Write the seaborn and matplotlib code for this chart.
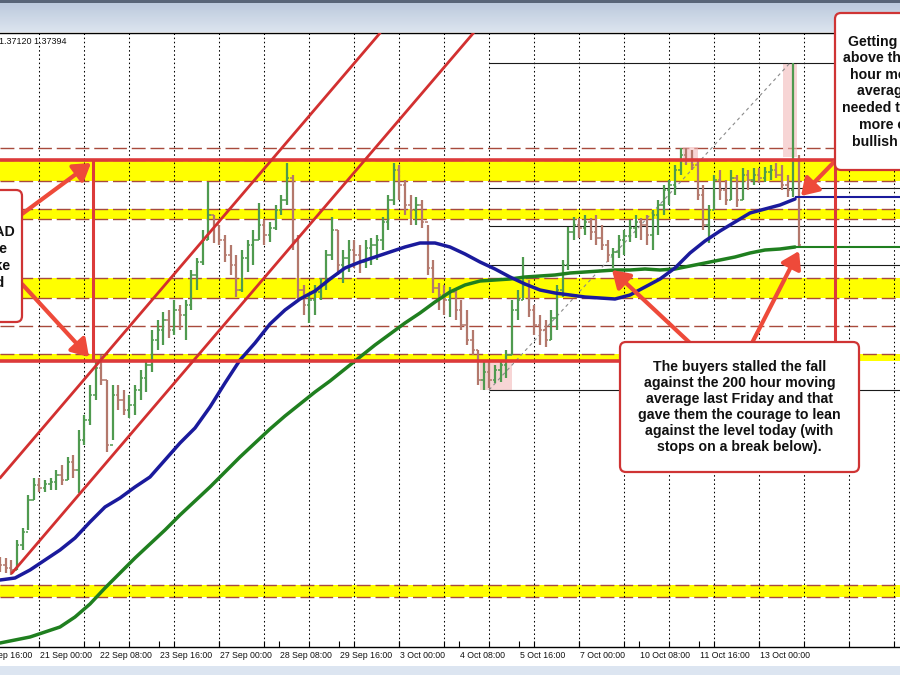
import numpy as np
import pandas as pd
import matplotlib
matplotlib.use("Agg")
import matplotlib.pyplot as plt
import matplotlib.transforms as mtransforms
from matplotlib.patches import FancyBboxPatch, Rectangle, FancyArrowPatch
from matplotlib.colors import LinearSegmentedColormap
import seaborn as sns

sns.set_theme(style="white")
plt.rcParams['font.family'] = ['Liberation Sans', 'DejaVu Sans']

# ---------------- data (USDCAD, 3-hour bars) ----------------
bar_high = [
    1.32365, 1.32350, 1.32320, 1.32620, 1.32800, 1.33295, 1.33550, 1.33550, 1.33520, 1.33550,
    1.33670, 1.33745, 1.33865, 1.33895, 1.34270, 1.34495, 1.34945, 1.35320, 1.35395, 1.35020,
    1.34945, 1.34945, 1.34870, 1.34795, 1.34945, 1.35170, 1.35320, 1.35770, 1.35920, 1.36040,
    1.36070, 1.36220, 1.36145, 1.36220, 1.36670, 1.36850, 1.37270, 1.37990, 1.37495, 1.37345,
    1.37195, 1.37045, 1.36895, 1.36970, 1.37120, 1.37270, 1.37675, 1.37420, 1.37390, 1.37645,
    1.37795, 1.38275, 1.38095, 1.37195, 1.36445, 1.36295, 1.36445, 1.36550, 1.36970, 1.37465,
    1.37270, 1.36970, 1.37120, 1.37120, 1.37045, 1.37120, 1.37150, 1.37195, 1.37465, 1.37795,
    1.38275, 1.38245, 1.38020, 1.37795, 1.37765, 1.37720, 1.37345, 1.36820, 1.36475, 1.36445,
    1.36415, 1.36370, 1.36220, 1.36070, 1.35770, 1.35470, 1.35320, 1.35290, 1.35245, 1.35320,
    1.35470, 1.36220, 1.36370, 1.36865, 1.36520, 1.36145, 1.35995, 1.35920, 1.36070, 1.36445,
    1.36820, 1.37315, 1.37465, 1.37450, 1.37495, 1.37450, 1.37495, 1.37345, 1.37120, 1.37000,
    1.37195, 1.37270, 1.37420, 1.37495, 1.37450, 1.37495, 1.37570, 1.37720, 1.37945, 1.38020,
    1.38245, 1.38500, 1.38500, 1.38470, 1.38320, 1.37945, 1.37645, 1.38095, 1.38170, 1.38020,
    1.38170, 1.38095, 1.38200, 1.38170, 1.38200, 1.38200, 1.38215, 1.38245, 1.38275, 1.38245,
    1.38095, 1.39775, 1.38395,
]
bar_low = [
    1.32140, 1.32125, 1.32095, 1.32170, 1.32470, 1.32770, 1.33220, 1.33340, 1.33340, 1.33370,
    1.33370, 1.33445, 1.33520, 1.33550, 1.33325, 1.34045, 1.34345, 1.34720, 1.34945, 1.33940,
    1.34120, 1.34570, 1.34495, 1.34450, 1.34495, 1.34720, 1.34840, 1.35140, 1.35470, 1.35545,
    1.35650, 1.35695, 1.35770, 1.35620, 1.36070, 1.36370, 1.36745, 1.37120, 1.37075, 1.37045,
    1.36790, 1.36595, 1.36265, 1.36340, 1.36640, 1.36745, 1.37120, 1.37045, 1.37090, 1.37270,
    1.37495, 1.37645, 1.36970, 1.36220, 1.35995, 1.35875, 1.35995, 1.36220, 1.36370, 1.36820,
    1.36595, 1.36475, 1.36640, 1.36700, 1.36625, 1.36700, 1.36745, 1.36820, 1.36970, 1.37270,
    1.37645, 1.37720, 1.37495, 1.37345, 1.37345, 1.37300, 1.36595, 1.36325, 1.36070, 1.35995,
    1.35965, 1.35920, 1.35770, 1.35545, 1.35395, 1.34945, 1.34870, 1.34900, 1.34975, 1.34990,
    1.35050, 1.35395, 1.35920, 1.36220, 1.35965, 1.35695, 1.35545, 1.35515, 1.35620, 1.35770,
    1.36265, 1.36670, 1.37120, 1.37150, 1.37195, 1.37120, 1.37045, 1.36970, 1.36790, 1.36700,
    1.36850, 1.36895, 1.37090, 1.37150, 1.37120, 1.37045, 1.36970, 1.37195, 1.37495, 1.37645,
    1.37795, 1.38095, 1.38245, 1.38170, 1.37720, 1.37270, 1.37075, 1.37570, 1.37720, 1.37645,
    1.37720, 1.37615, 1.37720, 1.37870, 1.37945, 1.37975, 1.37990, 1.38020, 1.38050, 1.37870,
    1.37765, 1.37765, 1.37015,
]
bar_close = [
    1.32245, 1.32200, 1.32170, 1.32545, 1.32740, 1.33220, 1.33445, 1.33400, 1.33460, 1.33490,
    1.33595, 1.33520, 1.33790, 1.33670, 1.34120, 1.34420, 1.34795, 1.35200, 1.35020, 1.34045,
    1.34795, 1.34720, 1.34570, 1.34645, 1.34870, 1.35050, 1.35245, 1.35620, 1.35770, 1.35920,
    1.35770, 1.36070, 1.35995, 1.36145, 1.36595, 1.36790, 1.37120, 1.37495, 1.37345, 1.37120,
    1.36895, 1.36745, 1.36370, 1.36850, 1.37045, 1.37120, 1.37345, 1.37195, 1.37300, 1.37570,
    1.37720, 1.38050, 1.37120, 1.36370, 1.36145, 1.36220, 1.36340, 1.36445, 1.36895, 1.37270,
    1.36745, 1.36850, 1.36970, 1.36895, 1.36790, 1.37000, 1.37045, 1.37120, 1.37390, 1.37720,
    1.38170, 1.37945, 1.37645, 1.37570, 1.37645, 1.37390, 1.36700, 1.36400, 1.36295, 1.36220,
    1.36340, 1.36070, 1.35845, 1.35620, 1.35470, 1.35020, 1.35140, 1.35020, 1.35170, 1.35245,
    1.35395, 1.36070, 1.36220, 1.36445, 1.36070, 1.35845, 1.35770, 1.35620, 1.35950, 1.36370,
    1.36745, 1.37240, 1.37345, 1.37300, 1.37390, 1.37240, 1.37150, 1.37045, 1.36895, 1.36940,
    1.37120, 1.37180, 1.37300, 1.37390, 1.37345, 1.37195, 1.37495, 1.37645, 1.37870, 1.37945,
    1.38170, 1.38395, 1.38320, 1.38245, 1.37795, 1.37345, 1.37570, 1.38020, 1.37870, 1.37720,
    1.38050, 1.37720, 1.38095, 1.38020, 1.38095, 1.38050, 1.38140, 1.38170, 1.38095, 1.37945,
    1.37870, 1.38320, 1.37045,
]
first_open = 1.32300
bar_hours = 3  # each bar covers 3 hourly slots

# 100-hour (blue) and 200-hour (green) moving averages, sampled every 8 hours
ma_step = 8
ma100 = [
    1.3202, 1.3205, 1.3217, 1.3232, 1.3247, 1.3265, 1.3289, 1.33115, 1.3325, 1.33415,
    1.33565, 1.3382, 1.34075, 1.3430, 1.34615, 1.34975, 1.3532, 1.35575, 1.3586, 1.3607,
    1.36235, 1.36355, 1.36535, 1.3670, 1.3679, 1.36865, 1.3694, 1.37015, 1.37075, 1.37075,
    1.37015, 1.3691, 1.3679, 1.36685, 1.36565, 1.3646, 1.3637, 1.36325, 1.36295, 1.36265,
    1.3625, 1.36235, 1.36295, 1.36415, 1.36535, 1.3670, 1.36925, 1.37105, 1.37255, 1.3739,
    1.37525, 1.37585, 1.37645, 1.37735,
]
ma200 = [
    1.31075, 1.3112, 1.31165, 1.3124, 1.31315, 1.31465, 1.3166, 1.3190, 1.32125, 1.3235,
    1.3256, 1.3277, 1.32995, 1.33205, 1.33415, 1.3364, 1.33865, 1.34075, 1.34285, 1.3448,
    1.3466, 1.3484, 1.35005, 1.35185, 1.35365, 1.35545, 1.3571, 1.35875, 1.36025, 1.3619,
    1.3634, 1.36445, 1.36505, 1.3652, 1.36535, 1.36565, 1.3658, 1.36595, 1.36625, 1.3664,
    1.36655, 1.3667, 1.3667, 1.36685, 1.3667, 1.36685, 1.3673, 1.36775, 1.3682, 1.36865,
    1.36925, 1.3697, 1.36985, 1.37015,
]
ma100_level = 1.37765
ma200_level = 1.37015

# key levels
yellow_zones = [(1.38005, 1.38320), (1.37435, 1.37585), (1.36250, 1.36550),
                (1.35305, 1.35410), (1.31765, 1.31945)]
dashed_levels = [1.38500, 1.38320, 1.38005, 1.37585, 1.37435, 1.36550, 1.36250,
                 1.35830, 1.35410, 1.31945, 1.31765]
range_top = 1.38320
range_bottom = 1.35305
range_hours = (49.6, 445.3)

fib_levels = [1.39775, 1.37901, 1.37323, 1.36744, 1.34870]
fib_hours = (260.8, 421.3)

channel_upper = ([0.0, 202.7], [1.33550, 1.40225])
channel_lower = ([6.4, 252.5], [1.32125, 1.40225])

highlight_boxes = [(256.0, 273.0, 1.34870, 1.35320),
                   (364.0, 372.0, 1.38275, 1.38515),
                   (417.6, 425.0, 1.38365, 1.39775)]

tick_labels = ["19 Sep 16:00", "21 Sep 00:00", "22 Sep 08:00", "23 Sep 16:00",
               "27 Sep 00:00", "28 Sep 08:00", "29 Sep 16:00", "3 Oct 00:00",
               "4 Oct 08:00", "5 Oct 16:00", "7 Oct 00:00", "10 Oct 08:00",
               "11 Oct 16:00", "13 Oct 00:00"]
label_first_hour, label_step = -11, 32
grid_first_hour, grid_step = 21, 24

header_text = "1.37120 1.37394"

# ---------------- figure ----------------
W, H = 900, 675
fig = plt.figure(figsize=(9, 6.75), dpi=100)
fig.patch.set_facecolor("white")
PX = mtransforms.Affine2D().scale(1 / W, -1 / H).translate(0, 1) + fig.transFigure

ax = fig.add_axes([0, 28 / H, 1, 614 / H])
ax.set_facecolor("white")
ax.set_xlim(0, 480)
ax.set_ylim(1.31015, 1.40225)

# yellow zones and dashed levels
for lo, hi in yellow_zones:
    ax.axhspan(lo, hi, color="#ffff00", lw=0, zorder=1)
for lv in dashed_levels:
    ax.axhline(lv, color="#a84a3c", lw=1.0, dashes=(10, 3.5), zorder=2)

# vertical dotted grid
for h in range(grid_first_hour, 481, grid_step):
    ax.axvline(h, color="black", lw=0.75, dashes=(1.5, 2.5), zorder=2)

# highlight rectangles
for x0, x1, y0, y1 in highlight_boxes:
    ax.add_patch(Rectangle((x0, y0), x1 - x0, y1 - y0, facecolor="#f3b9b9",
                           edgecolor="none", alpha=0.6, zorder=2.5))

# fib retracement
ax.hlines(fib_levels, fib_hours[0], 480, color="#1a1a1a", lw=0.8, zorder=3)
ax.plot(fib_hours, [fib_levels[-1], fib_levels[0]], color="#8a8a8a", lw=0.8,
        dashes=(3, 3), zorder=3)

# OHLC bars
n = len(bar_close)
x = np.arange(n) * bar_hours
opens = [first_open] + bar_close[:-1]
up = np.array(bar_close) >= np.array(opens)
cols = np.where(up, "#4f9a4f", "#b3786c")
ax.vlines(x, bar_low, bar_high, colors=cols, lw=1.6, zorder=3.5)
ax.hlines(opens, x - 1.3, x, colors=cols, lw=1.1, zorder=3.5)
ax.hlines(bar_close, x, x + 1.3, colors=cols, lw=1.1, zorder=3.5)

# moving averages
ma_x = np.arange(len(ma100)) * ma_step
df_ma = pd.DataFrame({"hour": ma_x, "ma100": ma100, "ma200": ma200})
sns.lineplot(data=df_ma, x="hour", y="ma200", color="#1f7f1f", lw=2.5, ax=ax, zorder=4)
sns.lineplot(data=df_ma, x="hour", y="ma100", color="#1a1a9c", lw=2.5, ax=ax, zorder=4)
ax.hlines(ma100_level, ma_x[-1], 480, color="#1a1a9c", lw=1.5, zorder=4)
ax.hlines(ma200_level, ma_x[-1], 480, color="#1f7f1f", lw=1.5, zorder=4)

# red range box and channel
RED = "#dc3a3a"
ax.hlines([range_top, range_bottom], 0, range_hours[1], color=RED, lw=2.6, zorder=5)
ax.vlines(list(range_hours), range_bottom, range_top, color=RED, lw=2.2, zorder=5)
ax.plot(*channel_upper, color="#d23030", lw=2.0, zorder=5)
ax.plot(*channel_lower, color="#d23030", lw=2.0, zorder=5)

# axes cosmetics
ax.set_xlabel("")
ax.set_ylabel("")
ax.set_yticks([])
for s in ["left", "right"]:
    ax.spines[s].set_visible(False)
for s in ["top", "bottom"]:
    ax.spines[s].set_visible(True)
    ax.spines[s].set_color("black")
    ax.spines[s].set_linewidth(1.0)
label_pos = [label_first_hour + label_step * i for i in range(len(tick_labels))]
grid_pos = list(range(grid_first_hour, 481, grid_step))
ax.set_xticks([p for p in label_pos if p >= 0] + grid_pos)
ax.tick_params(axis="x", direction="in", length=4, width=0.8, color="black",
               bottom=True, labelbottom=False)
ax.grid(False)

lab_tr = mtransforms.blended_transform_factory(ax.transData, PX)
for p, lab in zip(label_pos, tick_labels):
    ax.text(p + 0.5, 656, lab, transform=lab_tr, ha="left", va="center",
            fontsize=6.3, color="#111111", clip_on=False)

# window chrome
bar_ax = fig.add_axes([0, 1 - 32 / H, 1, 29 / H])
grad = np.linspace(0, 1, 50).reshape(-1, 1)
cm = LinearSegmentedColormap.from_list("tb", ["#bccadd", "#dce4ef"])
bar_ax.imshow(grad, aspect="auto", cmap=cm, extent=(0, 1, 1, 0))
bar_ax.axis("off")
fig.add_artist(Rectangle((0, 0), W, 3, transform=PX, color="#586578", lw=0))
fig.add_artist(Rectangle((0, 666), W, 9, transform=PX, color="#dce5f1", lw=0))
fig.text(-1, 41, header_text, transform=PX, fontsize=6.5, color="#111111",
         ha="left", va="center")

# annotation boxes
BOX_EDGE = "#cf3434"
def box(x0, y0, w, h):
    fig.add_artist(FancyBboxPatch((x0, y0), w, h, transform=PX,
                                  boxstyle="round,pad=0,rounding_size=6",
                                  facecolor="white", edgecolor=BOX_EDGE, lw=1.6, zorder=6))

ARROW = "#ee4a3a"
def arrow(p0, p1):
    fig.add_artist(FancyArrowPatch(p0, p1, transform=PX,
                                   arrowstyle="-|>,head_length=0.5,head_width=0.32",
                                   mutation_scale=20, color=ARROW, lw=3.0,
                                   shrinkA=0, shrinkB=0, zorder=5.5))

arrow((22, 214), (91, 163))
arrow((22, 284), (89, 357))
arrow((690, 343), (612, 270))
arrow((752, 343), (799, 251))
arrow((836, 160), (801, 196))

box(-14, 190, 36, 132)
box(835, 13, 90, 157)
box(620, 342, 239, 130)

TXT = dict(fontsize=10.2, fontweight="bold", color="#111111", zorder=7)
left_lines = [("USDCAD", 15, 232), ("the", 8, 249), ("take", 11, 266), ("and", 5, 283)]
for s, xr, yy in left_lines:
    fig.text(xr, yy, s, transform=PX, ha="right", va="center", **TXT)

right_lines = [("Getting back", 848, 42), ("above the 100", 843, 58),
               ("hour moving", 850, 75), ("average is", 857, 91),
               ("needed to get", 842, 108), ("more of a", 859, 125),
               ("bullish bias", 852, 142)]
for s, xl, yy in right_lines:
    fig.text(xl, yy, s, transform=PX, ha="left", va="center", **TXT)

fig.text(739.5, 407, "The buyers stalled the fall\nagainst the 200 hour moving\n"
         "average last Friday and that\ngave them the courage to lean\n"
         "against the level today (with\nstops on a break below).",
         transform=PX, ha="center", va="center", multialignment="center",
         linespacing=1.2, **TXT)

fig.savefig("out.png", dpi=100)
